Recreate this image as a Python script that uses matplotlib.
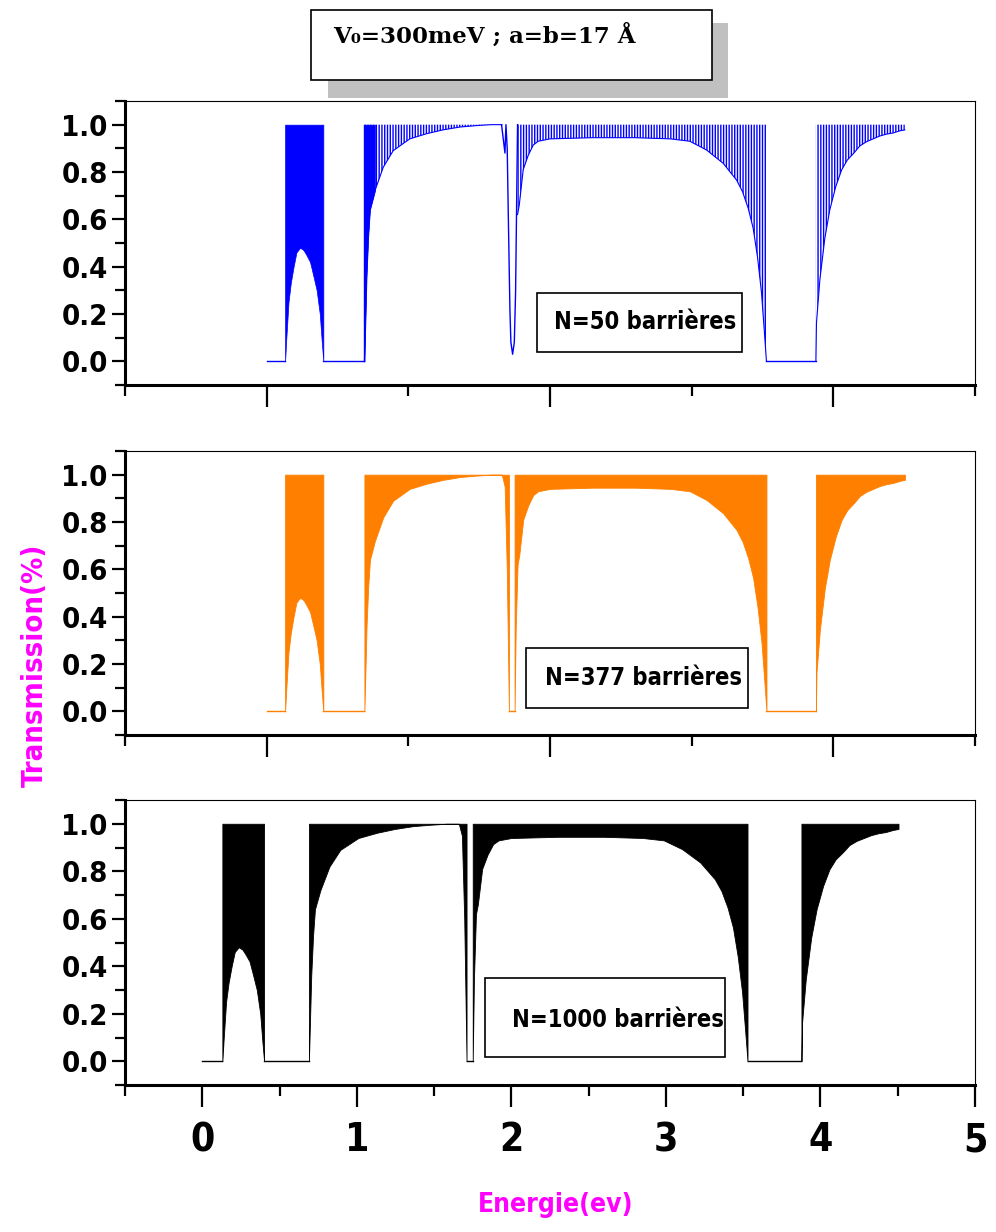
import numpy as np
import matplotlib
matplotlib.use('Agg')
import matplotlib.pyplot as plt
from matplotlib import font_manager as fm
from matplotlib.patches import Rectangle

# lower envelope of the transmission oscillations in each allowed band (E in eV)
band1_E = [0.13, 0.138, 0.154, 0.17, 0.19, 0.21, 0.236, 0.26, 0.28, 0.306, 0.33, 0.353, 0.375, 0.388, 0.40]
band1_T = [0.0, 0.09, 0.25, 0.33, 0.40, 0.46, 0.48, 0.47, 0.45, 0.42, 0.36, 0.30, 0.20, 0.09, 0.0]

band2_E = [0.69, 0.705, 0.717, 0.729, 0.764, 0.823, 0.893, 1.01, 1.13, 1.245, 1.364, 1.48, 1.58, 1.66]
band2_T = [0.0, 0.36, 0.53, 0.64, 0.72, 0.82, 0.89, 0.94, 0.962, 0.978, 0.99, 0.996, 1.0, 1.0]

band3_E = [1.771, 1.783, 1.811, 1.846, 1.882, 1.917, 2.0, 2.3, 2.6, 2.85, 2.987, 3.105, 3.222,
           3.317, 3.359, 3.399, 3.434, 3.465, 3.493, 3.512, 3.528]
band3_T = [0.62, 0.66, 0.81, 0.87, 0.914, 0.93, 0.94, 0.945, 0.945, 0.94, 0.93, 0.893, 0.837,
           0.766, 0.717, 0.647, 0.563, 0.44, 0.29, 0.135, 0.0]

band4_E = [3.877, 3.881, 3.905, 3.94, 3.975, 4.017, 4.058, 4.098, 4.145, 4.187, 4.234, 4.281,
           4.328, 4.375, 4.422, 4.47, 4.505]
band4_T = [0.0, 0.163, 0.345, 0.52, 0.64, 0.738, 0.808, 0.85, 0.88, 0.91, 0.928, 0.94,
           0.952, 0.96, 0.965, 0.974, 0.978]

# zero transmission (gaps)
gaps = [(0.0, 0.13), (0.40, 0.69), (3.528, 3.877)]

# narrow dip near 1.73 eV, N=50
dip_E = [1.658, 1.682, 1.689, 1.698, 1.705, 1.717, 1.724, 1.736, 1.748, 1.757, 1.764, 1.771]
dip_T = [1.0, 0.88, 1.0, 0.9, 0.64, 0.22, 0.08, 0.03, 0.08, 0.29, 0.64, 1.0]

# for N=377 and N=1000 the dip becomes a true gap
gap2 = (1.71, 1.75)
band2_tail_E = [1.68, 1.695, 1.71]
band2_tail_T = [0.95, 0.6, 0.0]
band3_head_E = [1.75, 1.758]
band3_head_T = [0.0, 0.35]

y_ticks = [0.0, 0.2, 0.4, 0.6, 0.8, 1.0]
y_labels = ['0.0', '0.2', '0.4', '0.6', '0.8', '1.0']
y_minor = [-0.1, 0.1, 0.3, 0.5, 0.7, 0.9, 1.1]
x_labels = ['0', '1', '2', '3', '4', '5']

names = {f.name for f in fm.fontManager.ttflist}
if 'Liberation Sans Narrow' in names:
    plt.rcParams['font.family'] = 'Liberation Sans Narrow'
else:
    plt.rcParams['font.family'] = 'DejaVu Sans'
    plt.rcParams['font.stretch'] = 'condensed'
plt.rcParams['font.weight'] = 'bold'
plt.rcParams['hatch.linewidth'] = 1.0

W, H = 996, 1232
fig = plt.figure(figsize=(W / 100, H / 100), dpi=100)


def px_box(x0, y0, x1, y1):
    return [x0 / W, 1 - y1 / H, (x1 - x0) / W, (y1 - y0) / H]


def style(ax, xlim, xmaj, xmin, labels):
    ax.set_xlim(xlim)
    ax.set_ylim(-0.1, 1.1)
    ax.set_xticks(xmaj)
    ax.set_xticks(xmin, minor=True)
    ax.set_yticks(y_ticks)
    ax.set_yticks(y_minor, minor=True)
    ax.set_yticklabels(y_labels)
    if labels:
        ax.set_xticklabels(x_labels)
    else:
        ax.set_xticklabels([])
    ax.tick_params(axis='x', which='major', direction='out', length=16, width=1.6, pad=10, labelsize=28)
    ax.tick_params(axis='x', which='minor', direction='out', length=8, width=1.6)
    ax.tick_params(axis='y', which='major', direction='out', length=9.5, width=1.6, pad=3, labelsize=21)
    ax.tick_params(axis='y', which='minor', direction='out', length=7, width=1.6)
    for s in ['left', 'bottom']:
        ax.spines[s].set_linewidth(2.2)
    for s in ['top', 'right']:
        ax.spines[s].set_linewidth(0.8)


def draw_thin(ax, c):
    for a, b in gaps:
        ax.plot([a, b], [0, 0], color=c, lw=1)
    ax.fill_between(band1_E, band1_T, 1, color=c, lw=0.5)
    E2 = np.array(band2_E)
    ax.fill_between(E2, band2_T, 1, where=E2 <= 0.77, color=c, lw=0.5)
    for E, T in [(band2_E, band2_T), (band3_E, band3_T), (band4_E, band4_T)]:
        ax.fill_between(E, T, 1, facecolor='none', edgecolor=c, hatch='||||||', lw=0)
        ax.plot(E, T, color=c, lw=0.8)
    ax.plot([band2_E[0], band2_E[0]], [0, 1], color=c, lw=1)
    ax.plot(dip_E, dip_T, color=c, lw=1)


def draw_thick(ax, c):
    for a, b in gaps + [gap2]:
        ax.plot([a, b], [0, 0], color=c, lw=1)
    b2E = band2_E + band2_tail_E
    b2T = band2_T + band2_tail_T
    b3E = band3_head_E + band3_E
    b3T = band3_head_T + band3_T
    for E, T in [(band1_E, band1_T), (b2E, b2T), (b3E, b3T), (band4_E, band4_T)]:
        ax.fill_between(E, T, 1, color=c, lw=0.6)


ax1 = fig.add_axes(px_box(125, 101, 975, 385))
draw_thin(ax1, '#0000ff')
style(ax1, (-1, 5), [0, 2, 4], [-1, 1, 3, 5], False)

ax2 = fig.add_axes(px_box(125, 451, 975, 735))
draw_thick(ax2, '#ff8000')
style(ax2, (-1, 5), [0, 2, 4], [-1, 1, 3, 5], False)

ax3 = fig.add_axes(px_box(125, 800, 975, 1085))
draw_thick(ax3, '#000000')
style(ax3, (-0.5, 5), [0, 1, 2, 3, 4, 5], [-0.5, 0.5, 1.5, 2.5, 3.5, 4.5], True)

# labels boxes
boxes = [((537, 293, 742, 352), (645, 322), 'N=50 barrières'),
         ((526, 648, 748, 708), (643, 678), 'N=377 barrières'),
         ((485, 978, 725, 1057), (618, 1020), 'N=1000 barrières')]
for (x0, y0, x1, y1), (tx, ty), txt in boxes:
    r = px_box(x0, y0, x1, y1)
    fig.add_artist(Rectangle((r[0], r[1]), r[2], r[3], transform=fig.transFigure,
                             fc='white', ec='black', lw=1.2, zorder=5))
    fig.text(tx / W, 1 - ty / H, txt, ha='center', va='center', fontsize=17, zorder=6)

# title box with shadow
r = px_box(328, 23, 728, 98)
fig.add_artist(Rectangle((r[0], r[1]), r[2], r[3], transform=fig.transFigure,
                         fc='#c0c0c0', ec='none', zorder=5))
r = px_box(311, 10, 712, 80)
fig.add_artist(Rectangle((r[0], r[1]), r[2], r[3], transform=fig.transFigure,
                         fc='white', ec='black', lw=1.2, zorder=6))
fig.text(333 / W, 1 - 36 / H, 'V₀=300meV ; a=b=17 Å', ha='left', va='center',
         fontsize=16.5, family='DejaVu Serif', weight='bold', stretch='normal', zorder=7)

fig.text(35 / W, 1 - 665 / H, 'Transmission(%)', rotation=90, ha='center', va='center',
         fontsize=21, color='#ff00ff')
fig.text(556 / W, 1 - 1205 / H, 'Energie(ev)', ha='center', va='center',
         fontsize=19, color='#ff00ff')

fig.savefig('out.png', dpi=100)
